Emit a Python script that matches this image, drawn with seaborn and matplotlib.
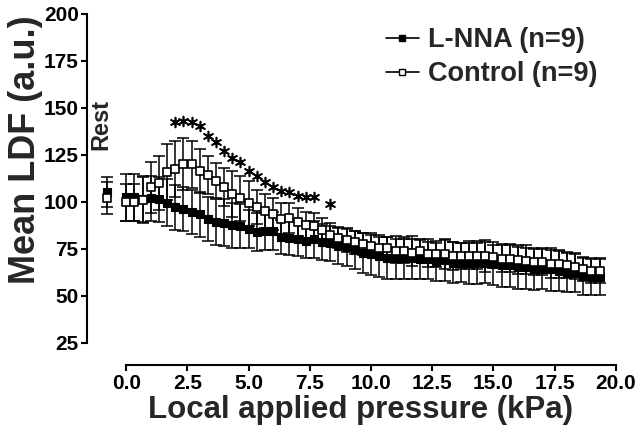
import numpy as np
import pandas as pd
import seaborn as sns
import matplotlib.pyplot as plt
from matplotlib.lines import Line2D

# pressure steps of 2.5 mmHg (1/3 kPa), 59 levels
pressure = np.arange(59) / 3.0

lnna = [102.3, 102.3, 101.5, 101.8, 101.4, 99.5, 97.0, 96.1, 94.5, 93.3,
        90.8, 89.3, 89.0, 87.6, 87.2, 85.6, 84.1, 84.3, 84.4, 81.2,
        81.0, 80.3, 79.3, 80.0, 78.8, 78.0, 76.4, 76.0, 74.4, 72.7,
        72.1, 71.2, 70.3, 70.3, 70.0, 70.3, 69.5, 69.5, 68.0, 68.9,
        67.7, 67.7, 67.7, 67.7, 67.7, 67.2, 66.3, 66.3, 65.4, 65.4,
        64.5, 64.5, 64.1, 63.2, 62.4, 62.4, 60.6, 60.2, 60.2]
lnna_err = [12.5, 12.5, 12, 12, 12, 12.4, 12, 11.6, 11.5, 11.8,
            11.6, 12.4, 12.4, 12, 11.5, 10.2, 10, 10, 10, 9,
            9, 9, 9, 9.7, 9.5, 9.4, 9.6, 10, 10.3, 10.7,
            11.2, 11, 11.1, 11.5, 11.2, 11.5, 10.7, 10.7, 10.1, 10.9,
            10.7, 10.5, 11.6, 11.6, 10.7, 11.5, 11.4, 11.4, 11.6, 11.6,
            11.1, 11, 11.6, 10.7, 10.4, 10.4, 10.3, 9.9, 9.9]

control = [99.7, 99.7, 101.0, 107.7, 110.0, 115.7, 117.4, 120.0, 120.0, 116.5,
           114.4, 111.2, 108.0, 104.1, 101.8, 99.1, 97.4, 95.2, 93.5, 91.1,
           91.6, 89.3, 87.6, 86.9, 84.8, 82.5, 81.0, 79.5, 78.5, 77.5,
           76.6, 75.7, 75.7, 73.9, 73.9, 73.0, 73.9, 72.1, 72.1, 72.1,
           71.2, 71.2, 71.2, 71.2, 71.2, 70.9, 69.8, 69.8, 68.9, 68.6,
           68.0, 68.0, 66.8, 66.8, 66.3, 65.6, 64.1, 63.2, 63.2]
control_err = [10, 10, 12, 13.5, 14.5, 15, 14.8, 13.8, 12.5, 11.6,
               10, 9.4, 10, 12, 12, 12, 9, 9, 8.5, 8,
               8, 7.5, 7, 7, 6.5, 6, 5.5, 6, 6, 6,
               5.5, 5.5, 5.5, 6.5, 6.5, 7, 6, 6.5, 7, 8,
               7.5, 7, 7, 7, 8.5, 6, 7, 7, 7, 7,
               7, 7, 7.5, 7.5, 7, 6.5, 6, 6.5, 6.5]

# resting values
rest_x = -0.8
lnna_rest, lnna_rest_err = 105.0, 8.0
control_rest, control_rest_err = 101.8, 8.5

# significance asterisks (index of pressure level, height)
star_idx = list(range(6, 24)) + [25]
star_y = [142.6, 143.1, 142.6, 140.2, 135.2, 131.6, 127.2, 123.1, 121.0, 116.5,
          113.9, 110.7, 107.7, 105.9, 105.0, 103.2, 102.6, 102.3, 98.8]

xticks = [0, 2.5, 5, 7.5, 10, 12.5, 15, 17.5, 20]
xtick_labels = ["0.0", "2.5", "5.0", "7.5", "10.0", "12.5", "15.0", "17.5", "20.0"]
yticks = [25, 50, 75, 100, 125, 150, 175, 200]

sns.set_theme(style="ticks")
plt.rcParams["font.family"] = ["Liberation Sans", "DejaVu Sans"]
plt.rcParams["font.weight"] = "bold"

df_l = pd.DataFrame({"x": np.append(pressure, rest_x),
                     "y": lnna + [lnna_rest],
                     "e": lnna_err + [lnna_rest_err]})
df_c = pd.DataFrame({"x": np.append(pressure, rest_x),
                     "y": control + [control_rest],
                     "e": control_err + [control_rest_err]})

fig = plt.figure(figsize=(6.4, 4.47), dpi=100)
ax = fig.add_axes([0.136, 0.2327, 0.834, 0.737])

ax.errorbar(df_l["x"], df_l["y"], yerr=df_l["e"], fmt="none", ecolor="black",
            elinewidth=1.1, capsize=4.5, capthick=1.1, zorder=2)
ax.errorbar(df_c["x"], df_c["y"], yerr=df_c["e"], fmt="none", ecolor="black",
            elinewidth=1.1, capsize=4.5, capthick=1.1, zorder=2)
sns.scatterplot(data=df_l, x="x", y="y", marker="s", s=40, color="black",
                edgecolor="black", linewidth=0.8, ax=ax, zorder=3)
sns.scatterplot(data=df_c, x="x", y="y", marker="s", s=40, color="white",
                edgecolor="black", linewidth=1.2, ax=ax, zorder=4)

sns.scatterplot(x=pressure[star_idx], y=star_y, marker=(6, 2, 0), s=50,
                color="black", linewidth=1.2, ax=ax, zorder=5)

ax.text(-1.02, 141, "Rest", rotation=90, ha="center", va="center",
        fontsize=17, fontweight="bold")

ax.set_xlim(-1.6, 20.2)
ax.set_ylim(25, 200)
ax.set_xticks(xticks)
ax.set_xticklabels(xtick_labels)
ax.set_yticks(yticks)
ax.set_xlabel("")
ax.set_ylabel("")
ax.tick_params(width=1.5, length=4, labelsize=15, pad=2, colors="black")
for sp in ax.spines.values():
    sp.set_linewidth(1.5)
    sp.set_color("black")
sns.despine(ax=ax, offset={"bottom": 16, "left": 0}, trim=True)

handles = [
    Line2D([], [], color="black", lw=1.2, marker="s", markersize=4.5,
           markerfacecolor="black", markeredgecolor="black"),
    Line2D([], [], color="black", lw=1.2, marker="s", markersize=4.5,
           markerfacecolor="white", markeredgecolor="black"),
]
fig.legend(handles, ["L-NNA (n=9)", "Control (n=9)"], loc="upper left",
           bbox_to_anchor=(386 / 640, 1 - 27 / 447), frameon=False,
           fontsize=19.5, handlelength=1.2, handletextpad=0.35,
           labelspacing=0.3, borderpad=0, borderaxespad=0)

fig.text(26 / 640, 1 - 150 / 447, "Mean LDF (a.u.)", rotation=90,
         ha="center", va="center", fontsize=26, fontweight="bold")
fig.text(361 / 640, 1 - 410 / 447, "Local applied pressure (kPa)",
         ha="center", va="center", fontsize=22.5, fontweight="bold")

fig.savefig("out.png", dpi=100)
